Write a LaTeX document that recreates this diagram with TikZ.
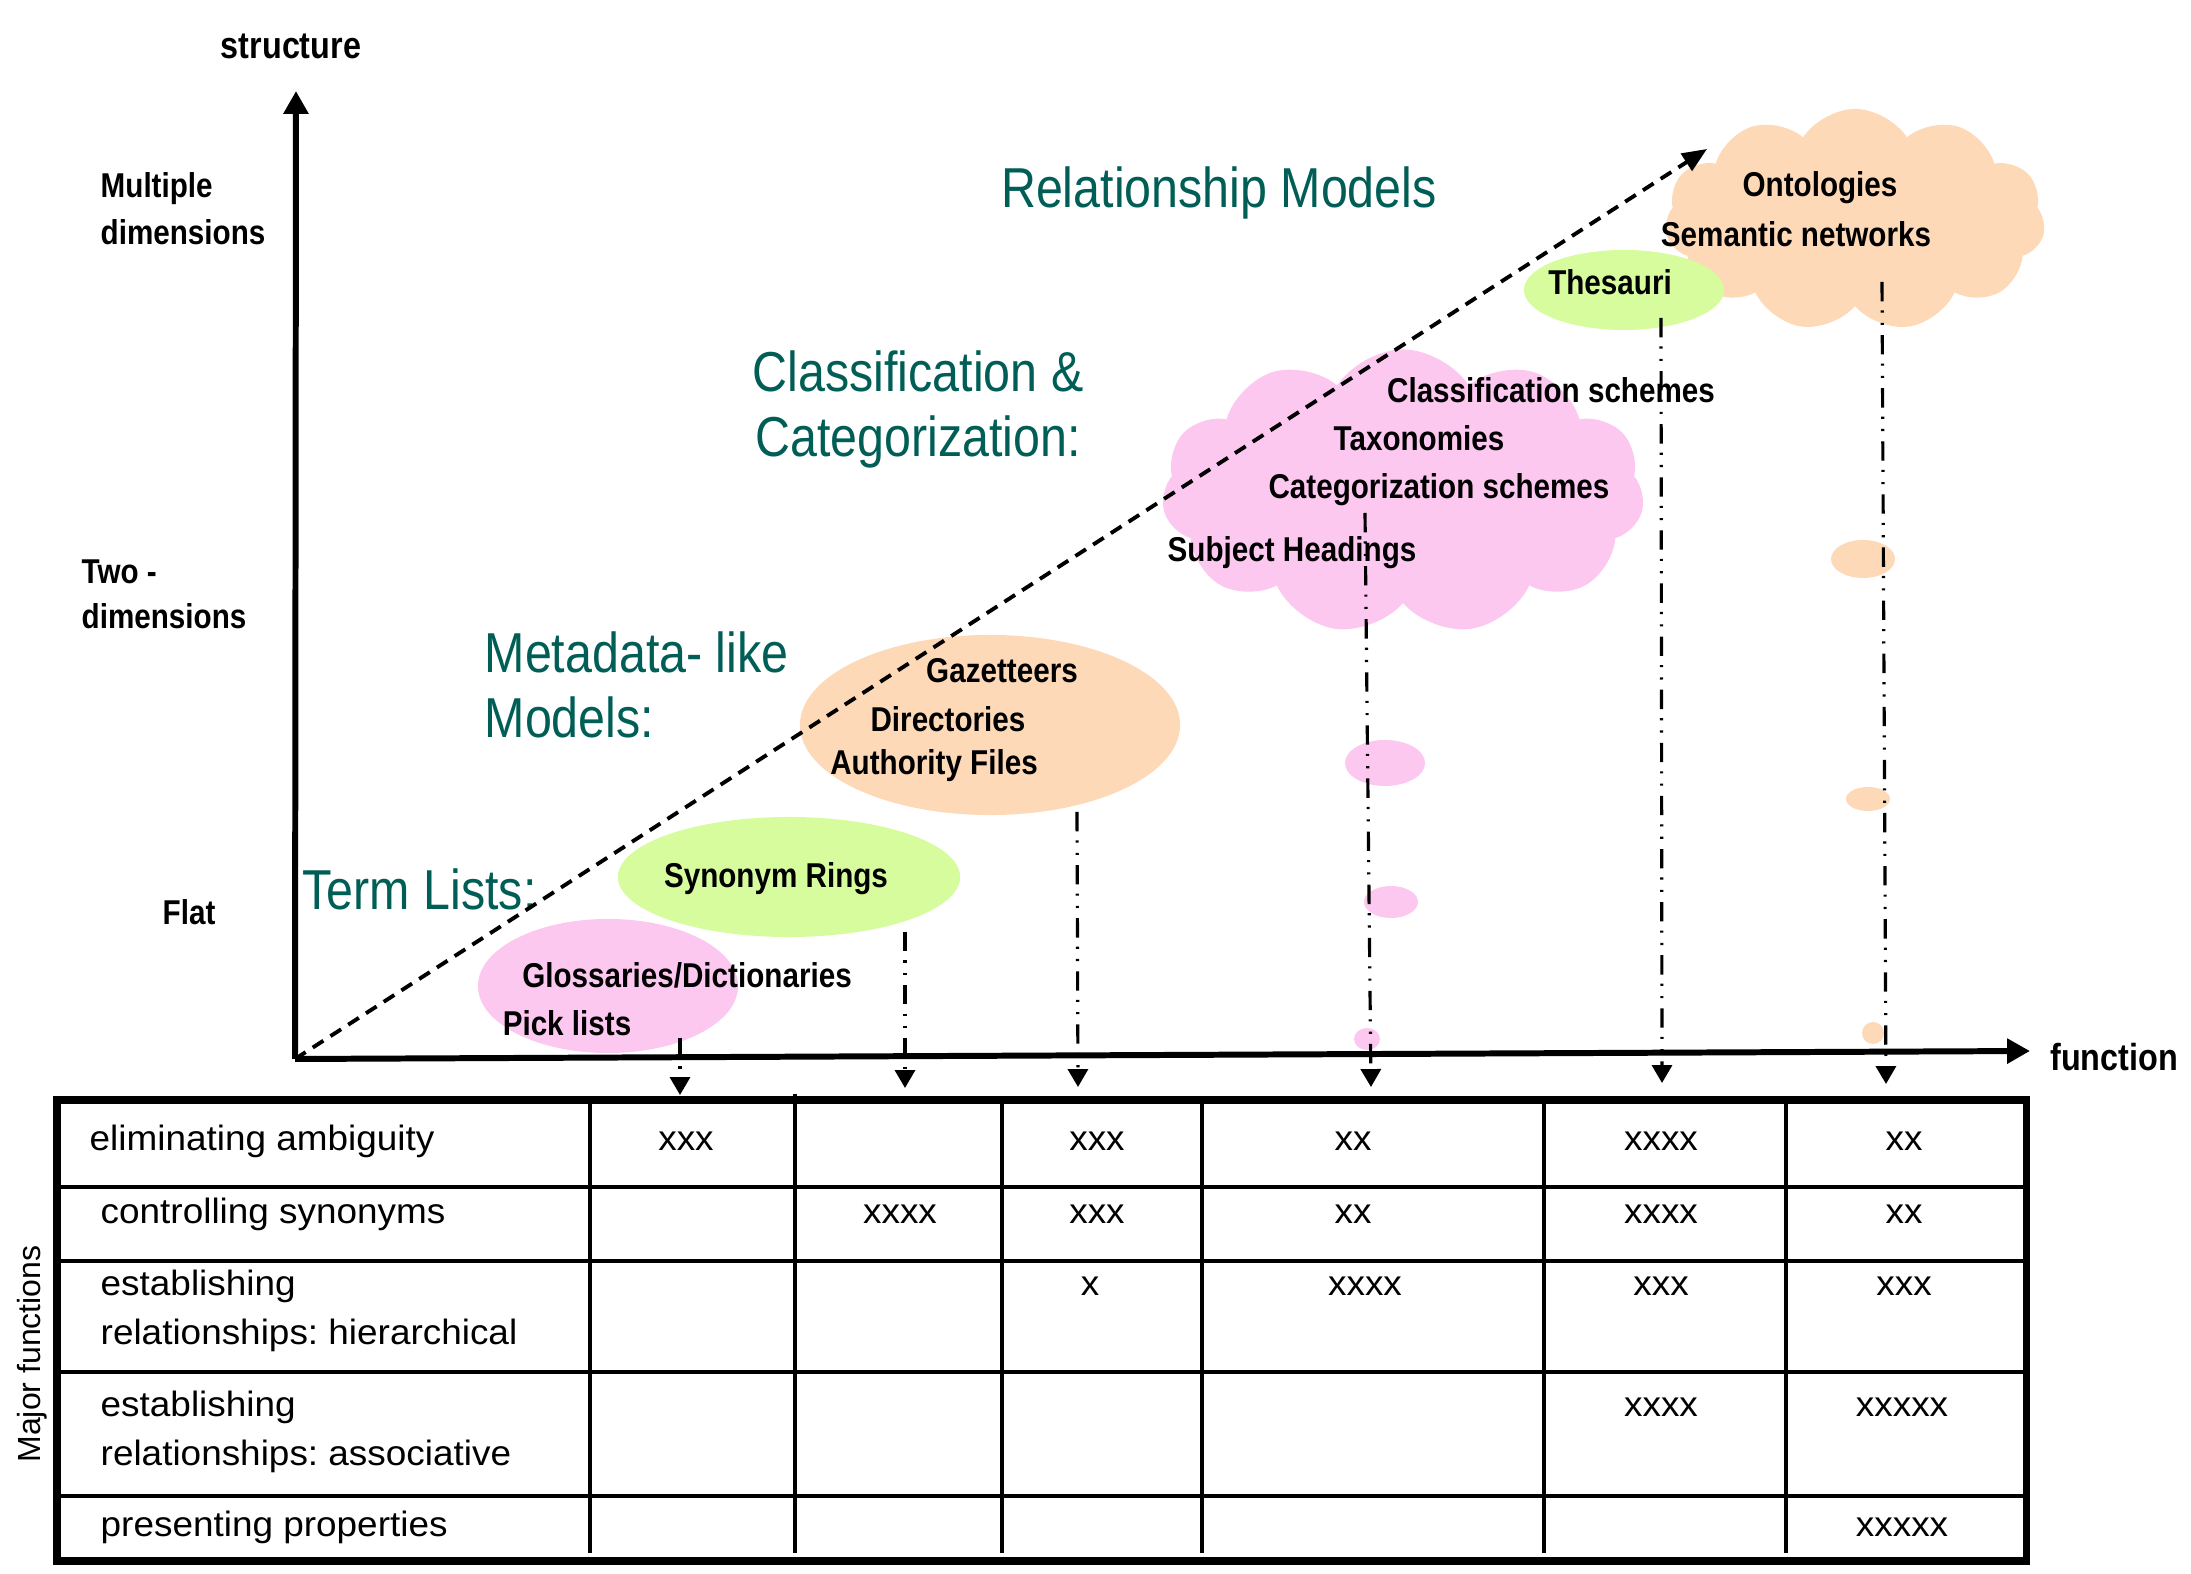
\documentclass[tikz,border=0pt]{standalone}
\usepackage{fontspec}
\setmainfont{Liberation Sans}
\newfontfamily\narrowsf[FakeStretch=0.86]{Liberation Sans}
\newfontfamily\widesf[FakeStretch=1.05]{Liberation Sans}
\usetikzlibrary{positioning,shapes.geometric,shapes.symbols,arrows.meta}
\definecolor{headteal}{RGB}{0,94,86}
\definecolor{pinkfill}{RGB}{252,200,240}
\definecolor{peachfill}{RGB}{253,217,184}
\definecolor{greenfill}{RGB}{214,252,158}
\frenchspacing

\begin{document}
\begin{tikzpicture}[x=0.01cm,y=-0.01cm,
    blob/.style={ellipse,draw=none,inner sep=0pt},
    puff/.style={cloud,cloud puffs=11,cloud puff arc=115,cloud ignores aspect,
                 draw=none,inner sep=0pt},
    tag/.style={font=\narrowsf\bfseries\fontsize{9.8}{13.4}\selectfont,
                inner sep=0pt,anchor=base},
    axisname/.style={font=\narrowsf\bfseries\fontsize{10.7}{13}\selectfont,
                     inner sep=0pt,anchor=base},
    heading/.style={font=\narrowsf\fontsize{16}{18.6}\selectfont,text=headteal,
                    inner sep=0pt},
    rowtext/.style={font=\widesf\fontsize{10}{13.9}\selectfont,inner sep=0pt,
                    anchor=base west,align=left},
    score/.style={font=\widesf\fontsize{10}{12}\selectfont,inner sep=0pt,anchor=base},
    axis/.style={line width=1.7pt,-{Triangle[length=6.5pt,width=6.8pt]}},
    trend/.style={line width=1.1pt,dash pattern=on 3.6pt off 2.4pt,
                  -{Triangle[length=7pt,width=5.7pt]}},
    drop/.style={line width=0.9pt,
                 dash pattern=on 5.5pt off 2.6pt on 0.6pt off 2.9pt on 0.6pt off 2.9pt,
                 -{Triangle[length=5.1pt,width=5.7pt]}},
    frame/.style={line width=2pt},
    rule/.style={line width=0.95pt}
  ]
  \useasboundingbox (0,0) rectangle (2191,1574);

  % coloured groups
  \node[blob,fill=pinkfill,minimum width=2.60cm,minimum height=1.34cm] (gloss) at (608,986) {};
  \node[blob,fill=greenfill,minimum width=3.42cm,minimum height=1.20cm] (syn) at (789,877) {};
  \node[blob,fill=peachfill,minimum width=3.80cm,minimum height=1.80cm] (gaz) at (990,725) {};
  \node[puff,fill=pinkfill,minimum width=4.82cm,minimum height=2.85cm] (classcloud) at (1403,492) {};
  \node[puff,fill=peachfill,minimum width=3.80cm,minimum height=2.22cm] (ontocloud) at (1855,220) {};
  \node[blob,fill=greenfill,minimum width=2.00cm,minimum height=0.80cm] (thes) at (1624,290) {};

  % thought bubbles
  \node[blob,fill=pinkfill,minimum width=0.80cm,minimum height=0.46cm] (pinkbub1) at (1385,763) {};
  \node[blob,fill=pinkfill,minimum width=0.54cm,minimum height=0.32cm] (pinkbub2) at (1391,902) {};
  \node[blob,fill=pinkfill,minimum width=0.26cm,minimum height=0.22cm] (pinkbub3) at (1367,1039) {};
  \node[blob,fill=peachfill,minimum width=0.64cm,minimum height=0.38cm] (peachbub1) at (1863,559) {};
  \node[blob,fill=peachfill,minimum width=0.44cm,minimum height=0.24cm] (peachbub2) at (1868,799) {};
  \node[blob,fill=peachfill,minimum width=0.22cm,minimum height=0.22cm] (peachbub3) at (1873,1033) {};

  % group labels
  \node[tag] (glosstext) at (687,988) {Glossaries/Dictionaries};
  \node[tag] (picktext) at (567,1036) {Pick lists};
  \node[tag] (syntext) at (776,888) {Synonym Rings};
  \node[tag] (gaztext) at (1002,683) {Gazetteers};
  \node[tag] (dirtext) at (948,732) {Directories};
  \node[tag] (authtext) at (934,775) {Authority Files};
  \node[tag] (classtext) at (1551,403) {Classification schemes};
  \node[tag] (taxtext) at (1419,451) {Taxonomies};
  \node[tag] (cattext) at (1439,499) {Categorization schemes};
  \node[tag] (subjtext) at (1292,562) {Subject Headings};
  \node[tag] (thestext) at (1610,295) {Thesauri};
  \node[tag] (ontotext) at (1820,197) {Ontologies};
  \node[tag] (semtext) at (1796,247) {Semantic networks};

  % headings
  \node[heading,anchor=base] (relhead) at (1219,208) {Relationship Models};
  \node[heading,anchor=base,align=center] (classhead) at (918,457) {Classification \&\\Categorization:};
  \node[heading,anchor=base west,align=left] (metahead) at (484,738) {Metadata- like\\Models:};
  \node[heading,anchor=base west] (termhead) at (302,910) {Term Lists:};

  % axis labels
  \node[axisname] (structlabel) at (291,59) {structure};
  \node[axisname] (funclabel) at (2114,1071) {function};
  \node[tag,anchor=base west,align=left] (multilabel) at (100,245) {Multiple\\dimensions};
  \node[tag,anchor=base west,align=left,font=\narrowsf\bfseries\fontsize{9.8}{12.8}\selectfont]
       (twolabel) at (81,629) {Two -\\dimensions};
  \node[tag,anchor=base west] (flatlabel) at (162,925) {Flat};

  % axes
  \coordinate (origin) at (295,1059);
  \coordinate (ytip) at (296,91);
  \coordinate (xtip) at (2030,1051);
  \coordinate (trendtip) at (1707,149);
  \draw[trend] (origin) -- (trendtip);
  \draw[axis] (origin) -- (ytip);
  \draw[axis] (origin) -- (xtip);

  % drop lines to the table
  \coordinate (top1) at (680,1038);  \coordinate (end1) at (680,1095);
  \coordinate (top2) at (905,932);   \coordinate (end2) at (905,1088);
  \coordinate (top3) at (1077,812);  \coordinate (end3) at (1078,1087);
  \coordinate (top4) at (1365,513);  \coordinate (end4) at (1371,1087);
  \coordinate (top5) at (1661,318);  \coordinate (end5) at (1662,1083);
  \coordinate (top6) at (1882,282);  \coordinate (end6) at (1886,1084);
  \draw[drop] (top1) -- (end1);
  \draw[drop] (top2) -- (end2);
  \draw[drop] (top3) -- (end3);
  \draw[drop] (top4) -- (end4);
  \draw[drop] (top5) -- (end5);
  \draw[drop] (top6) -- (end6);

  % table
  \draw[frame] (57,1100) rectangle (2026,1561);
  \draw[rule] (57,1187) -- (2026,1187);
  \draw[rule] (57,1261) -- (2026,1261);
  \draw[rule] (57,1372) -- (2026,1372);
  \draw[rule] (57,1496) -- (2026,1496);
  \draw[rule] (590,1100) -- (590,1553);
  \draw[rule] (795,1094) -- (795,1553);
  \draw[rule] (1002,1100) -- (1002,1553);
  \draw[rule] (1202,1100) -- (1202,1553);
  \draw[rule] (1544,1100) -- (1544,1553);
  \draw[rule] (1786,1100) -- (1786,1553);

  \node[font=\fontsize{9.1}{11}\selectfont,rotate=90,anchor=base,inner sep=0pt]
       (majorfn) at (40,1354) {Major functions};

  \node[rowtext] (row1) at (89,1151) {eliminating ambiguity};
  \node[rowtext] (row2) at (100,1223) {controlling synonyms};
  \node[rowtext] (row3) at (100,1344) {establishing\\relationships: hierarchical};
  \node[rowtext] (row4) at (100,1465) {establishing\\relationships: associative};
  \node[rowtext] (row5) at (100,1536) {presenting properties};

  \node[score] (s11) at (686,1151) {xxx};
  \node[score] (s13) at (1097,1151) {xxx};
  \node[score] (s14) at (1353,1151) {xx};
  \node[score] (s15) at (1661,1151) {xxxx};
  \node[score] (s16) at (1904,1151) {xx};
  \node[score] (s22) at (900,1223) {xxxx};
  \node[score] (s23) at (1097,1223) {xxx};
  \node[score] (s24) at (1353,1223) {xx};
  \node[score] (s25) at (1661,1223) {xxxx};
  \node[score] (s26) at (1904,1223) {xx};
  \node[score] (s33) at (1090,1295) {x};
  \node[score] (s34) at (1365,1295) {xxxx};
  \node[score] (s35) at (1661,1295) {xxx};
  \node[score] (s36) at (1904,1295) {xxx};
  \node[score] (s45) at (1661,1416) {xxxx};
  \node[score] (s46) at (1902,1416) {xxxxx};
  \node[score] (s56) at (1902,1536) {xxxxx};
\end{tikzpicture}
\end{document}
